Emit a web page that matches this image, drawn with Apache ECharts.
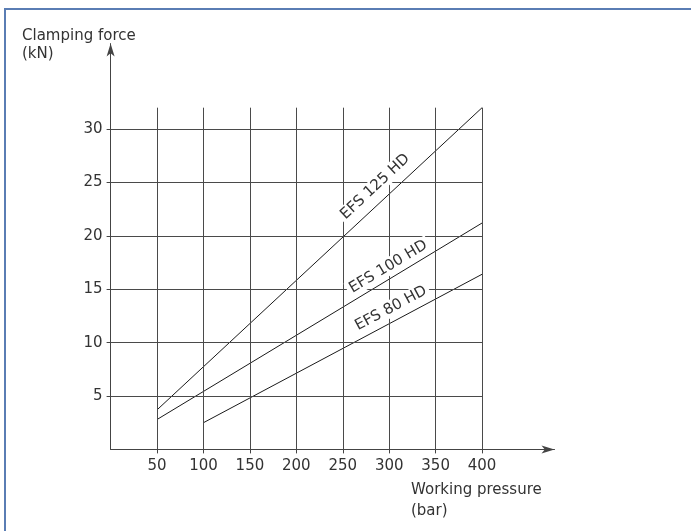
<!DOCTYPE html>
<html>
<head>
<meta charset="utf-8">
<script src="https://cdn.jsdelivr.net/npm/echarts@6/dist/echarts.min.js"></script>
<style>
  html, body { margin: 0; padding: 0; background: #fff; }
  #wrap { position: relative; width: 691px; height: 531px; }
  #frame { position: absolute; left: 4px; top: 8px; right: 0; bottom: 0;
           border-top: 2px solid #5a7db4; border-left: 2px solid #5a7db4; pointer-events: none; z-index: 5; }
  #chart { width: 691px; height: 531px; }
</style>
</head>
<body>
<div id="wrap"><div id="chart"></div><div id="frame"></div></div>
<script>
// ---- data ----
const xTicks = [50, 100, 150, 200, 250, 300, 350, 400];
const yTicks = [5, 10, 15, 20, 25, 30];
const gridMaxX = 400;   // grid lines extent (bar)
const gridMaxY = 32;    // grid lines extent (kN)
const axisMaxX = 478;
const axisMaxY = 38;

const seriesNames = ['EFS 125 HD', 'EFS 100 HD', 'EFS 80 HD'];
const efs125 = [[50, 3.7], [400, 32]];
const efs100 = [[50, 2.8], [400, 21.2]];
const efs80  = [[100, 2.5], [400, 16.4]];
const labelAt = [[285, 24.6], [299, 17.1], [302, 13.2]];
const labelAngle = [43, 31, 28];

const yName = 'Clamping force\n(kN)';
const xName = 'Working pressure\n(bar)';

// ---- chart ----
const FONT = 'DejaVu Sans';
const TXT = '#333';
const chart = echarts.init(document.getElementById('chart'), null, { renderer: 'canvas' });

const gridLines = [];
xTicks.forEach(v => gridLines.push([{ coord: [v, 0] }, { coord: [v, gridMaxY] }]));
yTicks.forEach(v => gridLines.push([{ coord: [0, v] }, { coord: [gridMaxX, v] }]));

const lineData = [efs125, efs100, efs80];
const lineSeries = lineData.map((d, i) => ({
  type: 'line',
  name: seriesNames[i],
  data: d,
  symbol: 'none',
  z: 3,
  lineStyle: { color: '#1a1a1a', width: 1 },
  silent: true,
  markPoint: {
    symbol: 'circle', symbolSize: 0,
    silent: true,
    data: [{ coord: labelAt[i] }],
    label: {
      show: true, position: 'inside', formatter: seriesNames[i],
      rotate: labelAngle[i],
      color: TXT, fontFamily: FONT, fontSize: 15,
      backgroundColor: '#fff', padding: [1, 3]
    }
  }
}));

const option = {
  animation: false,
  backgroundColor: '#fff',
  grid: { left: 110.6, top: 43.6, width: 443.9, height: 405.8 },
  xAxis: {
    type: 'value', min: 0, max: axisMaxX,
    axisLine: { show: true, symbol: ['none', 'arrow'], symbolSize: [6, 13], symbolOffset: [0, 0],
                lineStyle: { color: '#444', width: 1 } },
    axisTick: { show: true, customValues: xTicks, length: 4, lineStyle: { color: '#444' } },
    axisLabel: { customValues: xTicks, color: TXT, fontFamily: FONT, fontSize: 15, margin: 9 },
    splitLine: { show: false }
  },
  yAxis: {
    type: 'value', min: 0, max: axisMaxY,
    axisLine: { show: true, symbol: ['none', 'arrow'], symbolSize: [6, 13], symbolOffset: [0, 0],
                lineStyle: { color: '#444', width: 1 } },
    axisTick: { show: true, customValues: yTicks, length: 4, lineStyle: { color: '#444' } },
    axisLabel: { customValues: yTicks, color: TXT, fontFamily: FONT, fontSize: 15, margin: 8 },
    splitLine: { show: false }
  },
  graphic: [
    { type: 'text', left: 22, top: 27, style: { text: yName, font: '15px "DejaVu Sans"', fill: TXT, lineHeight: 18 } },
    { type: 'text', left: 411, top: 480, style: { text: xName, font: '15px "DejaVu Sans"', fill: TXT, lineHeight: 21 } }
  ],
  series: [
    {
      type: 'line', data: [], z: 1, silent: true,
      markLine: {
        silent: true, symbol: 'none', label: { show: false },
        lineStyle: { color: '#4a4a4a', width: 1, type: 'solid' },
        data: gridLines
      }
    }
  ].concat(lineSeries)
};
chart.setOption(option);
</script>
</body>
</html>
